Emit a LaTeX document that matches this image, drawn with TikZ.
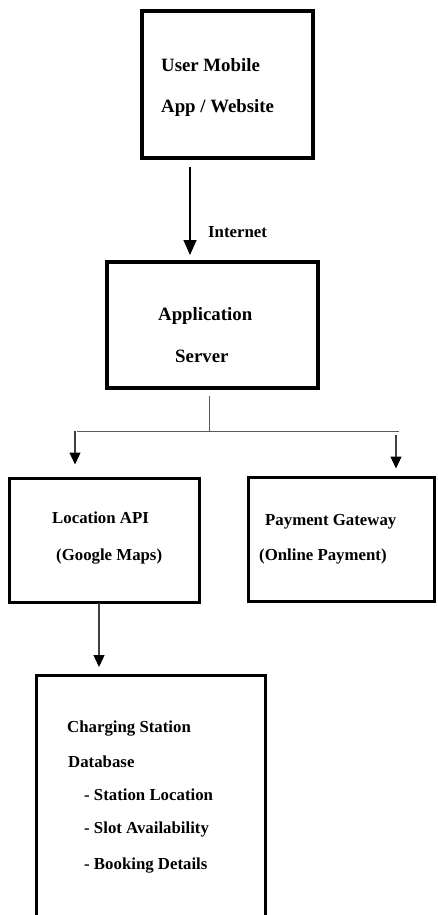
\documentclass[tikz,border=0pt]{standalone}
\usepackage{fontspec}
\setmainfont{Liberation Serif}
\usetikzlibrary{arrows.meta}

\tikzset{
  box/.style={draw, line width=3pt, outer sep=0pt, inner sep=0pt},
  bigbox/.style={box, line width=4pt},
  txt/.style={anchor=base west, inner sep=0pt, font=\fontsize{16.8}{19}\selectfont\bfseries},
  bigtxt/.style={txt, font=\fontsize{18.8}{22}\selectfont\bfseries},
  link/.style={line width=1.3pt, -{Triangle[length=15pt,width=13pt]}},
  branch/.style={line width=1pt, black!65},
  sublink/.style={line width=1.3pt, black!75, -{Triangle[length=12pt,width=11pt,fill=black,color=black]}}
}

\begin{document}
\begin{tikzpicture}[x=1pt,y=-1pt]
\useasboundingbox (0,0) rectangle (438,915);
\clip (0,0) rectangle (438,915);

% boxes
\node[bigbox, minimum width=171pt, minimum height=147pt] (user) at (227.5,84.5) {};
\node[bigbox, minimum width=211pt, minimum height=126pt] (server) at (212.5,325) {};
\node[box, minimum width=190pt, minimum height=124pt] (loc) at (104.5,540.5) {};
\node[box, minimum width=186pt, minimum height=124pt] (pay) at (341.5,539.5) {};
\node[box, minimum width=229pt, minimum height=265pt] (db) at (151,807.5) {};

% texts
\node[bigtxt] (userA) at (161,72) {User Mobile};
\node[bigtxt] (userB) at (161,113) {App / Website};
\node[bigtxt] (servA) at (158,320) {Application};
\node[bigtxt] (servB) at (175,362) {Server};
\node[txt] (inet) at (208,237) {Internet};
\node[txt] (locA) at (52,523) {Location API};
\node[txt] (locB) at (56,560) {(Google Maps)};
\node[txt] (payA) at (265,525) {Payment Gateway};
\node[txt] (payB) at (259,560) {(Online Payment)};
\node[txt] (dbA) at (67,732) {Charging Station};
\node[txt] (dbB) at (68,767) {Database};
\node[txt] (dbC) at (84,800) {- Station Location};
\node[txt] (dbD) at (84,833) {- Slot Availability};
\node[txt] (dbE) at (84,869) {- Booking Details};

% user -> server
\coordinate (net) at ([xshift=-37.5pt]user.south);
\draw[link] ([yshift=-9pt]net) -- ([yshift=7pt]net |- server.north);

% server -> location / payment
\coordinate (fork) at (209,431);
\coordinate (forkL) at (77,431);
\coordinate (forkR) at (399,431);
\draw[branch] ([yshift=-8pt]server.south -| fork) -- (fork);
\draw[branch] (forkL) -- (forkR);
\draw[sublink] ([xshift=-2pt]forkL) -- ([xshift=-2pt,yshift=14pt]forkL |- loc.north);
\draw[sublink] ([xshift=-3pt,yshift=-4pt]forkR) -- ([xshift=-3pt,yshift=9pt]forkR |- pay.north);

% location -> database
\draw[sublink] ([xshift=-5.5pt]loc.south) -- ([xshift=-5.5pt,yshift=8pt]loc.south |- db.north);
\end{tikzpicture}
\end{document}
